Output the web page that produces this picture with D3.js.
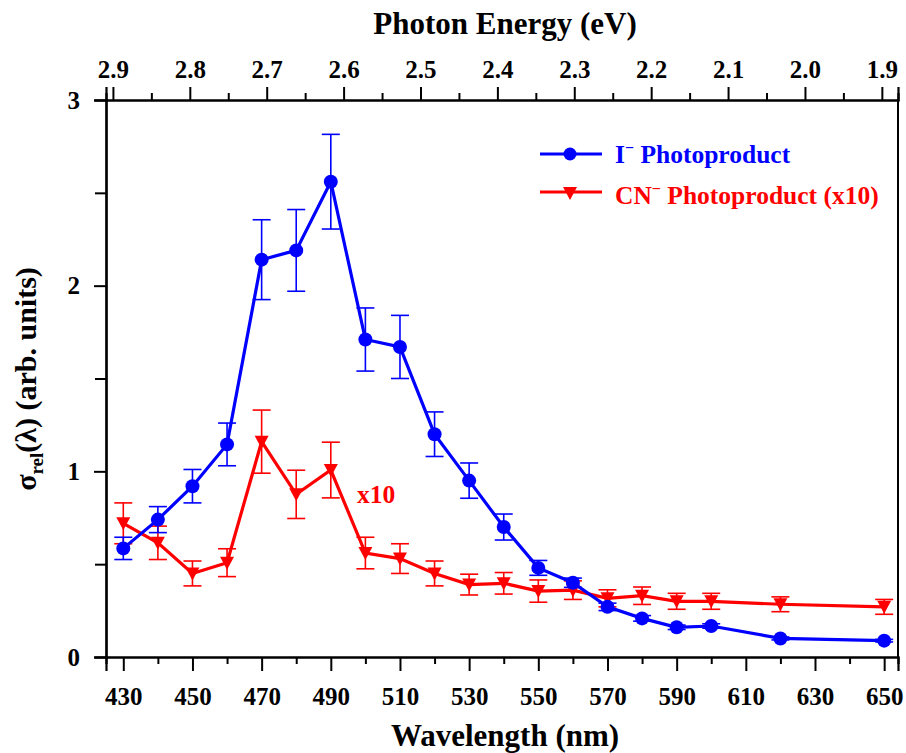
<!DOCTYPE html>
<html>
<head>
<meta charset="utf-8">
<script src="https://cdn.jsdelivr.net/npm/d3@7"></script>
<style>
  body { margin: 0; background: #fff; }
  text { font-family: "Liberation Serif", "Times New Roman", serif; font-weight: bold; }
</style>
</head>
<body>
<script>
"use strict";

// wavelengths (nm)
const wavelengths = [430, 440, 450, 460, 470, 480, 490, 500, 510, 520, 530, 540, 550, 560, 570, 580, 590, 600, 620, 650];

// I- photoproduct
const iodide = [0.585, 0.74, 0.92, 1.145, 2.14, 2.19, 2.56, 1.71, 1.67, 1.20, 0.95, 0.70, 0.48, 0.40, 0.27, 0.208, 0.16, 0.167, 0.10, 0.088];
const iodideErr = [0.06, 0.07, 0.09, 0.115, 0.215, 0.22, 0.255, 0.17, 0.17, 0.12, 0.095, 0.07, 0.04, 0.025, 0.02, 0.015, 0.012, 0.012, 0.008, 0.007];

// CN- photoproduct (x10)
const cyanide = [0.72, 0.615, 0.45, 0.508, 1.16, 0.876, 1.007, 0.56, 0.53, 0.45, 0.39, 0.397, 0.355, 0.36, 0.316, 0.33, 0.30, 0.30, 0.284, 0.27];
const cyanideErr = [0.11, 0.09, 0.067, 0.075, 0.17, 0.13, 0.15, 0.085, 0.08, 0.067, 0.056, 0.058, 0.06, 0.05, 0.046, 0.047, 0.043, 0.043, 0.04, 0.04];

const wlTicks = [430, 450, 470, 490, 510, 530, 550, 570, 590, 610, 630, 650];
const energyTicks = [2.9, 2.8, 2.7, 2.6, 2.5, 2.4, 2.3, 2.2, 2.1, 2.0, 1.9];
const yTicks = [0, 1, 2, 3];

const blue = "#0000ff";
const red = "#ff0000";

let svg = d3
  .select("body")
  .append("svg")
  .attr("width", 906)
  .attr("height", 753);

const plotLeft = 106, plotRight = 898, plotTop = 100, plotBottom = 657;

const x = d3.scaleLinear().domain([425, 654]).range([plotLeft, plotRight]);
const xTop = d3.scaleLinear().domain([2.909, 1.879]).range([plotLeft, plotRight]);
const y = d3.scaleLinear().domain([0, 3]).range([plotBottom, plotTop]);

// bottom axis
let gx = svg.append("g").attr("transform", `translate(0,${plotBottom})`);
gx.call(d3.axisBottom(x).tickValues(d3.range(440, 651, 20)).tickSize(7).tickFormat(""));
gx.append("g").call(d3.axisBottom(x).tickValues(wlTicks).tickSize(14).tickFormat(d3.format("d")).tickPadding(16));

// top axis
let gt = svg.append("g").attr("transform", `translate(0,${plotTop})`);
gt.call(d3.axisTop(xTop).tickValues(d3.range(2.85, 1.9, -0.1)).tickSize(7).tickFormat(""));
gt.append("g").call(d3.axisTop(xTop).tickValues(energyTicks).tickSize(13).tickFormat(d3.format(".1f")).tickPadding(9));

// left axis
let gy = svg.append("g").attr("transform", `translate(${plotLeft},0)`);
gy.call(d3.axisLeft(y).tickValues([0.5, 1.5, 2.5]).tickSize(11).tickFormat(""));
gy.append("g").call(d3.axisLeft(y).tickValues(yTicks).tickSize(12).tickFormat(d3.format("d")).tickPadding(14));

// right frame
svg.append("line")
  .attr("x1", plotRight).attr("x2", plotRight)
  .attr("y1", plotTop).attr("y2", plotBottom)
  .attr("stroke", "#000").attr("stroke-width", 2);

svg.selectAll(".domain").attr("stroke-width", 2.2);
svg.selectAll(".tick line").attr("stroke-width", 2);
svg.selectAll(".tick text").attr("font-size", 25).attr("fill", "#000");

// axis titles
svg.append("text")
  .attr("x", 505).attr("y", 34)
  .attr("text-anchor", "middle")
  .attr("font-size", 31)
  .text("Photon Energy (eV)");

svg.append("text")
  .attr("x", 505).attr("y", 746)
  .attr("text-anchor", "middle")
  .attr("font-size", 31)
  .text("Wavelength (nm)");

let yl = svg.append("text")
  .attr("transform", "translate(36,379) rotate(-90)")
  .attr("text-anchor", "middle")
  .attr("font-size", 30);
yl.append("tspan").text("σ");
yl.append("tspan").attr("font-size", 19).attr("dy", 7).text("rel");
yl.append("tspan").attr("dy", -7).text("(λ) (arb. units)");

function drawSeries(vals, errs, color, marker) {
  let g = svg.append("g");
  const data = wavelengths.map((w, i) => ({ w: w, v: vals[i], e: errs[i] }));

  // error bars
  let eb = g.selectAll(".err").data(data).enter().append("g")
    .attr("stroke", color).attr("stroke-width", 1.6);
  eb.append("line")
    .attr("x1", d => x(d.w)).attr("x2", d => x(d.w))
    .attr("y1", d => y(d.v - d.e)).attr("y2", d => y(d.v + d.e));
  eb.append("line")
    .attr("x1", d => x(d.w) - 9).attr("x2", d => x(d.w) + 9)
    .attr("y1", d => y(d.v + d.e)).attr("y2", d => y(d.v + d.e));
  eb.append("line")
    .attr("x1", d => x(d.w) - 9).attr("x2", d => x(d.w) + 9)
    .attr("y1", d => y(d.v - d.e)).attr("y2", d => y(d.v - d.e));

  g.append("path")
    .datum(data)
    .attr("fill", "none")
    .attr("stroke", color)
    .attr("stroke-width", 3.2)
    .attr("d", d3.line().x(d => x(d.w)).y(d => y(d.v)));

  if (marker === "circle") {
    g.selectAll(".m").data(data).enter().append("circle")
      .attr("cx", d => x(d.w)).attr("cy", d => y(d.v))
      .attr("r", 7).attr("fill", color);
  } else {
    g.selectAll(".m").data(data).enter().append("path")
      .attr("transform", d => `translate(${x(d.w)},${y(d.v)})`)
      .attr("d", "M-7,-6L7,-6L0,7Z")
      .attr("fill", color);
  }
}

drawSeries(cyanide, cyanideErr, red, "triangle");
drawSeries(iodide, iodideErr, blue, "circle");

// x10 note
svg.append("text")
  .attr("x", 357).attr("y", 503)
  .attr("font-size", 25.5)
  .attr("fill", red)
  .text("x10");

// legend
let legend = svg.append("g");
legend.append("line").attr("x1", 540).attr("x2", 602).attr("y1", 154).attr("y2", 154)
  .attr("stroke", blue).attr("stroke-width", 3.2);
legend.append("circle").attr("cx", 570).attr("cy", 154).attr("r", 6.5).attr("fill", blue);
let t1 = legend.append("text").attr("x", 615).attr("y", 163).attr("font-size", 25.5).attr("fill", blue);
t1.append("tspan").text("I");
t1.append("tspan").attr("font-size", 16).attr("dy", -10).text("−");
t1.append("tspan").attr("dy", 10).text(" Photoproduct");

legend.append("line").attr("x1", 540).attr("x2", 602).attr("y1", 192).attr("y2", 192)
  .attr("stroke", red).attr("stroke-width", 3.2);
legend.append("path").attr("transform", "translate(570,193)").attr("d", "M-7,-6L7,-6L0,7Z").attr("fill", red);
let t2 = legend.append("text").attr("x", 615).attr("y", 204).attr("font-size", 25.5).attr("fill", red);
t2.append("tspan").text("CN");
t2.append("tspan").attr("font-size", 16).attr("dy", -10).text("−");
t2.append("tspan").attr("dy", 10).text(" Photoproduct (x10)");
</script>
</body>
</html>
